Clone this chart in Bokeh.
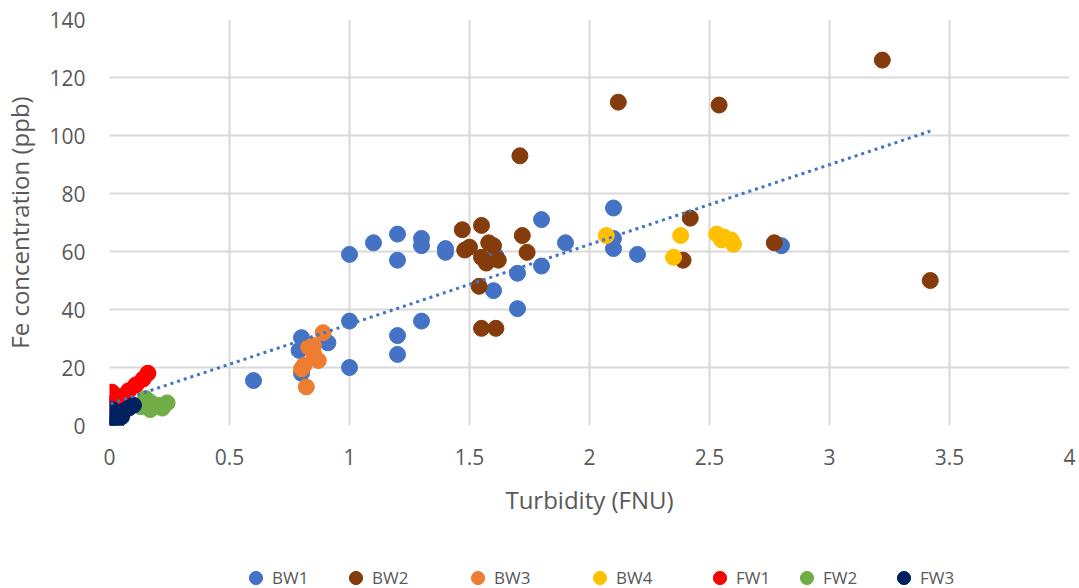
from bokeh.plotting import figure
from bokeh.models import Legend, LegendItem, Range1d, FixedTicker
from bokeh.layouts import column
from bokeh.embed import file_html
from bokeh.resources import INLINE

# ---- data ----
BW1_x = [0.6, 0.8, 0.79, 0.8, 0.91, 1.0, 1.0, 1.0, 1.1, 1.2, 1.2, 1.3, 1.3, 1.4, 1.4, 1.2, 1.2, 1.3,
         1.6, 1.61, 1.7, 1.7, 1.8, 1.8, 1.9, 2.1, 2.1, 2.1, 2.2, 2.8]
BW1_y = [15.5, 30.3, 25.9, 18.0, 28.5, 36.0, 20.0, 59.0, 63.0, 66.0, 57.0, 64.5, 62.0, 59.7, 61.0, 31.0, 24.5, 36.0,
         46.5, 58.5, 52.5, 40.3, 71.0, 55.0, 63.0, 75.0, 61.0, 64.5, 59.0, 62.0]

BW2_x = [1.47, 1.55, 1.48, 1.5, 1.58, 1.55, 1.57, 1.62, 1.6, 1.54, 1.55, 1.61, 1.72, 1.74, 1.71,
         2.12, 2.54, 3.22, 3.42, 2.42, 2.39, 2.77]
BW2_y = [67.5, 69.0, 60.5, 61.5, 63.0, 58.0, 56.0, 57.0, 62.0, 48.0, 33.5, 33.5, 65.5, 59.7, 93.0,
         111.5, 110.5, 126.0, 50.0, 71.5, 57.0, 63.0]

BW3_x = [0.89, 0.85, 0.83, 0.85, 0.87, 0.81, 0.82, 0.8]
BW3_y = [32.0, 27.6, 27.0, 24.8, 22.4, 20.7, 13.3, 19.5]

BW4_x = [2.07, 2.38, 2.35, 2.53, 2.55, 2.56, 2.59, 2.6]
BW4_y = [65.5, 65.5, 58.0, 66.0, 64.0, 65.0, 64.0, 62.5]

FW1_x = [0.005, 0.01, 0.03, 0.05, 0.08, 0.11, 0.14, 0.16]
FW1_y = [7.5, 11.5, 9.0, 10.0, 12.0, 14.0, 16.0, 18.0]

FW2_x = [0.15, 0.17, 0.2, 0.24, 0.22, 0.17, 0.13]
FW2_y = [9.3, 8.0, 7.0, 7.8, 6.0, 5.5, 6.5]

FW3_x = [0.1, 0.08, 0.06, 0.04, 0.02, 0.025, 0.01, 0.03, 0.05]
FW3_y = [7.0, 6.0, 5.0, 4.0, 2.5, 0.0, 5.5, 1.5, 3.0]

trend_x = [0.005, 3.42]
trend_y = [7.5, 101.5]

series_names = ["BW1", "BW2", "BW3", "BW4", "FW1", "FW2", "FW3"]
series_colors = ["#4472C4", "#843C0C", "#ED7D31", "#FFC000", "#FF0000", "#70AD47", "#002060"]

x_ticks = [0, 0.5, 1, 1.5, 2, 2.5, 3, 3.5, 4]
x_tick_labels = ["0", "0.5", "1", "1.5", "2", "2.5", "3", "3.5", "4"]
y_ticks = [0, 20, 40, 60, 80, 100, 120, 140]
y_tick_labels = ["0", "20", "40", "60", "80", "100", "120", "140"]

x_title = "Turbidity (FNU)"
y_title = "Fe concentration (ppb)"

FONT = "Open Sans"
TXT = "#595959"

# ---------------- main chart ----------------
p = figure(width=1079, height=530, output_backend="svg", toolbar_location=None,
           x_range=Range1d(0, 4), y_range=Range1d(0, 140),
           min_border_left=109, min_border_right=10, min_border_top=19, min_border_bottom=105)
p.outline_line_color = None
p.background_fill_color = "white"
p.border_fill_color = "white"

for ax in (p.xaxis[0], p.yaxis[0]):
    ax.axis_line_color = None
    ax.major_tick_line_color = None
    ax.minor_tick_line_color = None
    ax.major_tick_in = 0
    ax.major_tick_out = 0
    ax.minor_tick_in = 0
    ax.minor_tick_out = 0
    ax.major_label_text_font = FONT
    ax.major_label_text_font_size = "21px"
    ax.major_label_text_color = TXT
    ax.axis_label_text_font = FONT
    ax.axis_label_text_font_size = "24px"
    ax.axis_label_text_font_style = "normal"
    ax.axis_label_text_color = TXT

p.xaxis[0].ticker = FixedTicker(ticks=x_ticks)
p.yaxis[0].ticker = FixedTicker(ticks=y_ticks)
p.xaxis[0].major_label_overrides = dict(zip(x_ticks, x_tick_labels))
p.yaxis[0].major_label_overrides = dict(zip(y_ticks, y_tick_labels))
p.xaxis[0].axis_label = x_title
p.yaxis[0].axis_label = y_title
p.xaxis[0].major_label_standoff = 23
p.xaxis[0].axis_label_standoff = 15
p.yaxis[0].major_label_standoff = 24
p.yaxis[0].axis_label_standoff = 10

p.xgrid.ticker = FixedTicker(ticks=x_ticks)
p.ygrid.ticker = FixedTicker(ticks=y_ticks)
for g in (p.xgrid[0], p.ygrid[0]):
    g.grid_line_color = "#d9d9d9"
    g.grid_line_width = 2

all_x = [BW1_x, BW2_x, BW3_x, BW4_x, FW1_x, FW2_x, FW3_x]
all_y = [BW1_y, BW2_y, BW3_y, BW4_y, FW1_y, FW2_y, FW3_y]

for name, col, xs, ys in zip(series_names, series_colors, all_x, all_y):
    p.scatter(xs, ys, size=16, marker="circle", fill_color=col, line_color=col, line_width=1)

p.line(trend_x, trend_y, line_color="#4472C4", line_width=3, line_dash="3 4")

# ---------------- legend strip ----------------
q = figure(width=1079, height=58, output_backend="svg", toolbar_location=None,
           x_range=Range1d(0, 4), y_range=Range1d(-2, -1),
           x_axis_type=None, y_axis_type=None,
           min_border_left=0, min_border_right=0, min_border_top=0, min_border_bottom=0)
q.outline_line_color = None
q.grid.visible = False
q.background_fill_color = "white"
q.border_fill_color = "white"

FRAME_LEFT = 109  # the strip's frame is aligned with the main chart's frame
legend_centers = [255, 355, 477, 599, 719, 806, 903]   # screen px of each legend marker
for name, col, xs, ys, cx in zip(series_names, series_colors, all_x, all_y, legend_centers):
    r = q.scatter(xs, ys, size=16, marker="circle", fill_color=col, line_color=col)
    leg = Legend(items=[LegendItem(label=name, renderers=[r])], orientation="horizontal",
                 location=(cx - 16 - FRAME_LEFT, -6), glyph_width=33, glyph_height=33, label_standoff=0,
                 padding=0, margin=0, border_line_color=None, background_fill_alpha=0,
                 label_text_font=FONT, label_text_font_size="17px", label_text_color=TXT)
    q.add_layout(leg, "center")

open("out.html", "w").write(file_html(column(p, q, spacing=0), INLINE))
